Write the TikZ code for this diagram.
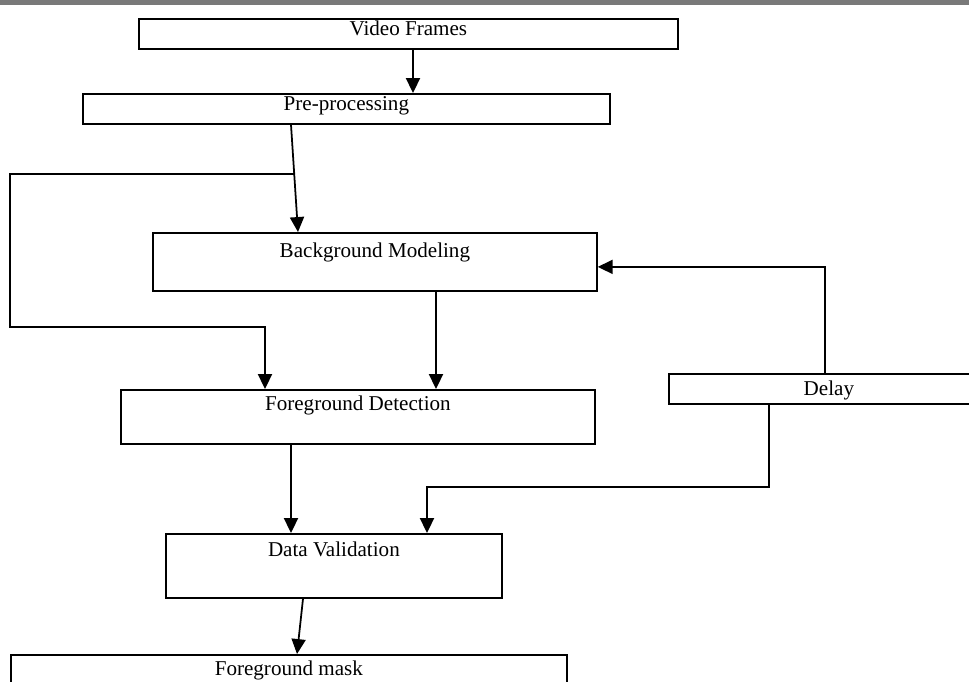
\documentclass[tikz,border=0pt]{standalone}
\usepackage{fontspec}
\setmainfont{Liberation Serif}
\usetikzlibrary{arrows.meta}
\tikzset{
  blk/.style={draw, line width=1pt, inner sep=0pt, anchor=north west},
  txt/.style={anchor=north, inner sep=0pt, font=\fontsize{12}{14}\selectfont},
  arr/.style={line width=1pt, -{Triangle[length=8.5pt,width=8pt]}},
  ln/.style={line width=1pt}
}
\begin{document}
\begin{tikzpicture}
            \useasboundingbox (0,0) rectangle (19.38,-13.62);
            \fill[gray!95!black] (0,0) rectangle (19.38,-0.09);
            % boxes
            \node[blk, minimum width=10.78cm, minimum height=0.60cm, label={[txt,yshift=-0.06cm]north:Video Frames}] (frames) at (2.76,-0.36) {};
            \node[blk, minimum width=10.54cm, minimum height=0.60cm, label={[txt,yshift=-0.06cm]north:Pre-processing}] (pre) at (1.64,-1.86) {};
            \node[blk, minimum width=8.88cm, minimum height=1.16cm, label={[txt,yshift=-0.22cm]north:Background Modeling}] (bgm) at (3.04,-4.64) {};
            \node[blk, minimum width=9.48cm, minimum height=1.08cm, label={[txt,yshift=-0.14cm]north:Foreground Detection}] (fgd) at (2.40,-7.78) {};
            \node[blk, minimum width=6.40cm, minimum height=0.60cm, label={[txt,yshift=-0.16cm]north:Delay}] (delay) at (13.36,-7.46) {};
            \node[blk, minimum width=6.72cm, minimum height=1.28cm, label={[txt,yshift=-0.18cm]north:Data Validation}] (valid) at (3.30,-10.66) {};
            \node[blk, minimum width=11.12cm, minimum height=0.80cm, label={[txt,yshift=-0.14cm]north:Foreground mask}] (mask) at (0.20,-13.08) {};
            % connectors
            \draw[arr] ([xshift=5.50cm]frames.south west) -- ([xshift=6.62cm]pre.north west);
            \draw[arr] ([xshift=4.18cm]pre.south west) -- coordinate[pos=0.46] (tap) ([xshift=2.92cm]bgm.north west);
            \draw[arr] (tap) -- (tap -| mask.west) |- ([xshift=2.90cm,yshift=1.24cm]fgd.north west) -- ([xshift=2.90cm]fgd.north west);
            \draw[arr] ([xshift=5.68cm]bgm.south west) -- ([xshift=6.32cm]fgd.north west);
            \draw[arr] ([xshift=3.14cm]delay.north west) |- ([yshift=-0.10cm]bgm.east);
            \draw[arr] ([xshift=2.02cm]delay.south west) |- ([xshift=5.24cm,yshift=0.92cm]valid.north west) -- ([xshift=5.24cm]valid.north west);
            \draw[arr] ([xshift=3.42cm]fgd.south west) -- ([xshift=2.52cm]valid.north west);
            \draw[arr] ([xshift=2.76cm]valid.south west) -- ([xshift=5.74cm]mask.north west);
        \end{tikzpicture}
\end{document}
